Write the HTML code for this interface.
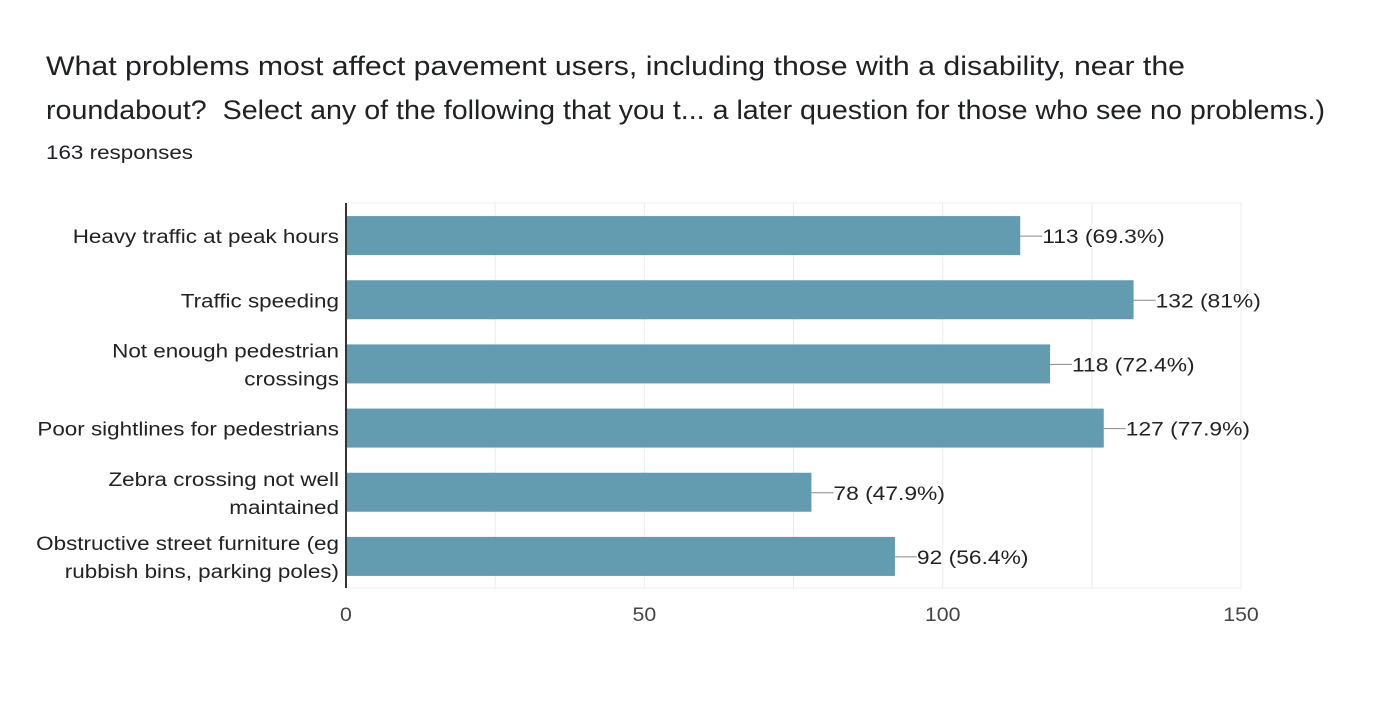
<!DOCTYPE html>
<html><head><meta charset="utf-8"><style>
body{margin:0;width:1384px;height:705px;background:#fff;font-family:"Liberation Sans",Arial,sans-serif;overflow:hidden}
</style></head><body>
<svg width="1384" height="705" xmlns="http://www.w3.org/2000/svg">
<text x="46" y="75" font-size="27" fill="#202124" textLength="1139" lengthAdjust="spacingAndGlyphs">What problems most affect pavement users, including those with a disability, near the</text>
<text x="46" y="119" font-size="27" fill="#202124" textLength="1279" lengthAdjust="spacingAndGlyphs" xml:space="preserve">roundabout?  Select any of the following that you t... a later question for those who see no problems.)</text>
<text x="46" y="159" font-size="19" fill="#202124" textLength="147" lengthAdjust="spacingAndGlyphs">163 responses</text>
<g id="plot"></g>
</svg>
<script>
const categories=[["Heavy traffic at peak hours"],["Traffic speeding"],["Not enough pedestrian","crossings"],["Poor sightlines for pedestrians"],["Zebra crossing not well","maintained"],["Obstructive street furniture (eg","rubbish bins, parking poles)"]];
const values=[113,132,118,127,78,92];
const labels=["113 (69.3%)","132 (81%)","118 (72.4%)","127 (77.9%)","78 (47.9%)","92 (56.4%)"];
const ticks=[0,50,100,150];
const gridVals=[25,50,75,100,125,150];
const X0=346,X1=1241,TOP=203,BOT=588,MAX=150;
const x=v=>X0+(X1-X0)*v/MAX;
const band=(BOT-TOP)/categories.length;
const yc=i=>TOP+band*(i+0.5);
const NS="http://www.w3.org/2000/svg";
const g=document.getElementById('plot');
function mk(t,a){const e=document.createElementNS(NS,t);for(const k in a)e.setAttribute(k,a[k]);g.appendChild(e);return e;}
function widen(t,f){const w=t.getComputedTextLength();t.setAttribute('textLength',w*f);t.setAttribute('lengthAdjust','spacingAndGlyphs');}
const bg=mk('rect',{x:X0,y:TOP,width:X1-X0,height:BOT-TOP,fill:'none',stroke:'#ececec'});


gridVals.forEach(v=>{const l=mk('line',{x1:x(v),x2:x(v),y1:TOP,y2:BOT,stroke:'#ececec'});

});
ticks.forEach(v=>{const t=mk('text',{x:x(v),y:621,'font-size':19,fill:'#444','text-anchor':'middle'});t.textContent=v;


widen(t,1.12);});
values.forEach((v,i)=>{
const r=mk('rect',{x:X0,y:yc(i)-19,width:x(v)-X0,height:39,fill:'#639bb0'});


const l=mk('line',{x1:x(v),x2:x(v)+22,y1:yc(i)+1,y2:yc(i)+1,stroke:'#888'});


const t=mk('text',{x:x(v)+22,y:yc(i)+8,'font-size':19,fill:'#222'});t.textContent=labels[i];


widen(t,1.2);
const lines=categories[i];
lines.forEach((s,j)=>{const c=mk('text',{x:339,y:yc(i)+8+(j-(lines.length-1)/2)*28,'font-size':19,fill:'#222','text-anchor':'end'});c.textContent=s;


widen(c,1.18);});
});
const ax=mk('line',{x1:X0,x2:X0,y1:TOP,y2:BOT,stroke:'#333','stroke-width':2});


</script>
</body></html>
